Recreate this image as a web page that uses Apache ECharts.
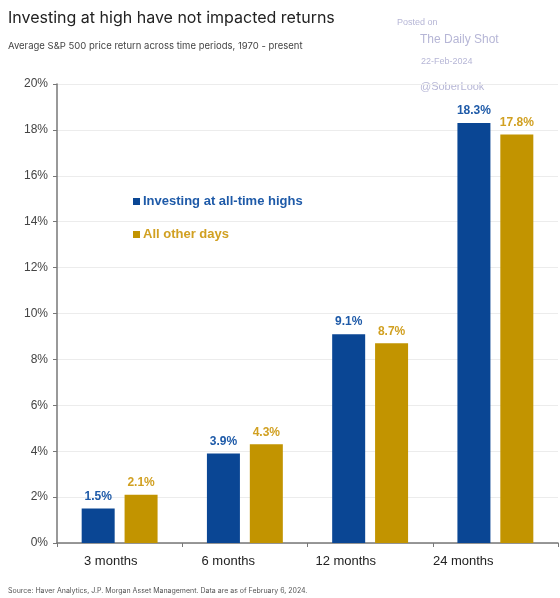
<!DOCTYPE html>
<html>
<head>
<meta charset="utf-8">
<script src="https://cdn.jsdelivr.net/npm/echarts@6/dist/echarts.min.js"></script>
<style>
  html, body { margin: 0; padding: 0; background: #fff; }
  #chart { width: 560px; height: 598px; }
</style>
</head>
<body>
<div id="chart"></div>
<script>
// 数据
const categories = ["3 months", "6 months", "12 months", "24 months"];
const allTimeHighs = [1.5, 3.9, 9.1, 18.3];
const otherDays = [2.1, 4.3, 8.7, 17.8];
const yTicks = [0, 2, 4, 6, 8, 10, 12, 14, 16, 18, 20];

const blue = "#0a4694";
const gold = "#c29400";
const blueLabel = "#1e5aa8";
const goldLabel = "#d1a021";
const font = "Liberation Sans, Arial, sans-serif";

const myChart = echarts.init(document.getElementById("chart"));

let option = {
  backgroundColor: "#fff",
  animation: false,
  title: [
    {
      text: "Investing at high have not impacted returns",
      left: 3, top: 5,
      textStyle: { fontFamily: "Inter, sans-serif", fontSize: 16, fontWeight: 400, color: "#222" }
    },
    {
      text: "Average S&P 500 price return across time periods, 1970 - present",
      left: 3, top: 36,
      textStyle: { fontFamily: "Inter, sans-serif", fontSize: 9.5, fontWeight: 400, color: "#444" }
    },
    {
      text: "Source: Haver Analytics, J.P. Morgan Asset Management. Data are as of February 6, 2024.",
      left: 3, top: 582,
      textStyle: { fontFamily: "Inter, sans-serif", fontSize: 7, fontWeight: 400, color: "#555" }
    }
  ],
  // 水印
  graphic: [
    { type: "text", left: 397, top: 18, style: { text: "Posted on", fill: "#b6b6d6", font: "9px " + font } },
    { type: "text", left: 420, top: 34, style: { text: "The Daily Shot", fill: "#b6b6d6", font: "12px " + font } },
    { type: "text", left: 421, top: 57, style: { text: "22-Feb-2024", fill: "#b6b6d6", font: "9px " + font } },
    { type: "text", left: 420, top: 81, style: { text: "@SoberLook", fill: "#b6b6d6", font: "11px " + font } }
  ],
  legend: {
    orient: "vertical",
    left: 128, top: 190,
    itemWidth: 7, itemHeight: 7,
    itemGap: 20,
    icon: "rect",
    data: [
      { name: "Investing at all-time highs", textStyle: { color: blueLabel } },
      { name: "All other days", textStyle: { color: goldLabel } }
    ],
    textStyle: { fontFamily: font, fontSize: 13, fontWeight: "bold", padding: [0, 0, 0, -2] }
  },
  // grid 0 画柱子，grid 1 只放x轴文字（原图文字略偏左）
  grid: [
    { left: 57, right: 2, top: 84, bottom: 55, containLabel: false },
    { left: 52, right: 38, top: 84, bottom: 55, containLabel: false }
  ],
  xAxis: [
    {
      type: "category",
      data: categories,
      axisLine: { lineStyle: { color: "#777", width: 1.5 } },
      axisTick: { show: true, length: 4, lineStyle: { color: "#777" } },
      axisLabel: { show: false }
    },
    {
      type: "category",
      gridIndex: 1,
      data: categories,
      axisLine: { show: false },
      axisTick: { show: false },
      axisLabel: { color: "#222", fontFamily: font, fontSize: 13, margin: 12 }
    }
  ],
  yAxis: [
    {
      type: "value",
      min: yTicks[0],
      max: yTicks[yTicks.length - 1],
      interval: 2,
      axisLine: { show: true, lineStyle: { color: "#777", width: 1.5 } },
      axisTick: { show: true, length: 4, lineStyle: { color: "#777" } },
      axisLabel: { color: "#444", fontFamily: font, fontSize: 12, margin: 9, formatter: "{value}%" },
      splitLine: { show: true, lineStyle: { color: "#ececec" } }
    },
    { type: "value", gridIndex: 1, show: false, min: 0, max: 20 }
  ],
  series: [
    {
      name: "Investing at all-time highs",
      type: "bar",
      data: allTimeHighs,
      barWidth: 33,
      barGap: "30%",
      itemStyle: { color: blue },
      label: {
        show: true, position: "top", distance: 6,
        formatter: (p) => p.value.toFixed(1) + "%",
        color: blueLabel, fontFamily: font, fontSize: 12, fontWeight: "bold"
      }
    },
    {
      name: "All other days",
      type: "bar",
      data: otherDays,
      barWidth: 33,
      barGap: "30%",
      itemStyle: { color: gold },
      label: {
        show: true, position: "top", distance: 6,
        formatter: (p) => p.value.toFixed(1) + "%",
        color: goldLabel, fontFamily: font, fontSize: 12, fontWeight: "bold"
      }
    }
  ]
};
option && myChart.setOption(option);
</script>
</body>
</html>
